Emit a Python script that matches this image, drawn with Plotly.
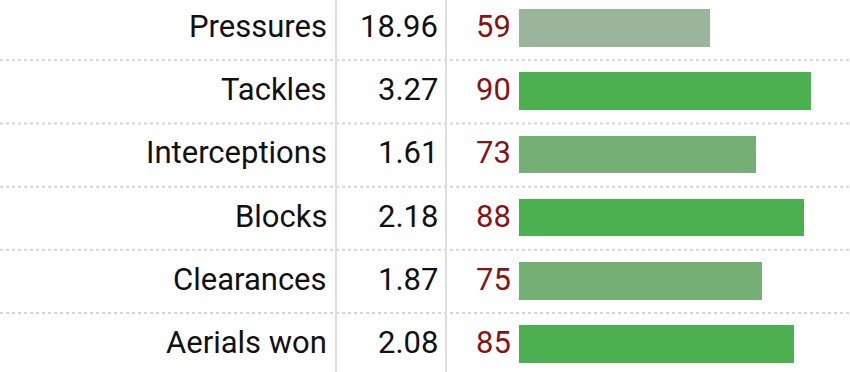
import plotly.graph_objects as go

metrics = ["Pressures", "Tackles", "Interceptions", "Blocks", "Clearances", "Aerials won"]
per90 = ["18.96", "3.27", "1.61", "2.18", "1.87", "2.08"]
percentiles = [59, 90, 73, 88, 75, 85]
bar_colors = ["#9ab59c", "#4caf50", "#74b074", "#4caf50", "#74b074", "#4caf50"]

W, H = 850, 372
FONT = "Roboto"
FS = 31
ROW_PX = 63.2      # pixel height of one row
FIRST_PX = 28.0    # pixel centre of first row

fig = go.Figure()
fig.add_trace(go.Bar(
    x=percentiles, y=metrics, orientation="h",
    marker=dict(color=bar_colors, line=dict(width=0)),
    width=37.5 / ROW_PX, hoverinfo="skip", showlegend=False,
))

annotations = []
for m, v, p in zip(metrics, per90, percentiles):
    annotations.append(dict(x=329 / W, y=m, xref="paper", yref="y", text=m,
                            xanchor="right", yanchor="middle", showarrow=False, yshift=1.5,
                            font=dict(family=FONT, size=FS, color="#111111")))
    annotations.append(dict(x=440 / W, y=m, xref="paper", yref="y", text=v,
                            xanchor="right", yanchor="middle", showarrow=False, yshift=1.5,
                            font=dict(family=FONT, size=FS, color="#111111")))
    annotations.append(dict(x=513 / W, y=m, xref="paper", yref="y", text=str(p),
                            xanchor="right", yanchor="middle", showarrow=False, yshift=1.5,
                            font=dict(family=FONT, size=FS, color="#861414")))

shapes = []
for i in range(len(metrics) - 1):
    shapes.append(dict(type="line", xref="paper", yref="y", x0=0, x1=1,
                       y0=i + 0.51, y1=i + 0.51,
                       line=dict(color="#d6d6d6", width=2, dash="dot")))
for xp in (336, 446):
    shapes.append(dict(type="line", xref="paper", yref="paper", x0=xp / W, x1=xp / W,
                       y0=0, y1=1, line=dict(color="#dddddd", width=2)))

top = -FIRST_PX / ROW_PX
bottom = top + H / ROW_PX

fig.update_layout(
    width=W, height=H,
    margin=dict(l=0, r=0, t=0, b=0),
    paper_bgcolor="white", plot_bgcolor="white",
    xaxis=dict(domain=[519 / W, 1], range=[0, 331 / 3.24], visible=False, fixedrange=True),
    yaxis=dict(range=[bottom, top], visible=False, fixedrange=True),
    annotations=annotations, shapes=shapes,
    bargap=0,
)

fig.write_html("out.html", config={"displayModeBar": False},
               post_script="document.body.style.margin='0';")
